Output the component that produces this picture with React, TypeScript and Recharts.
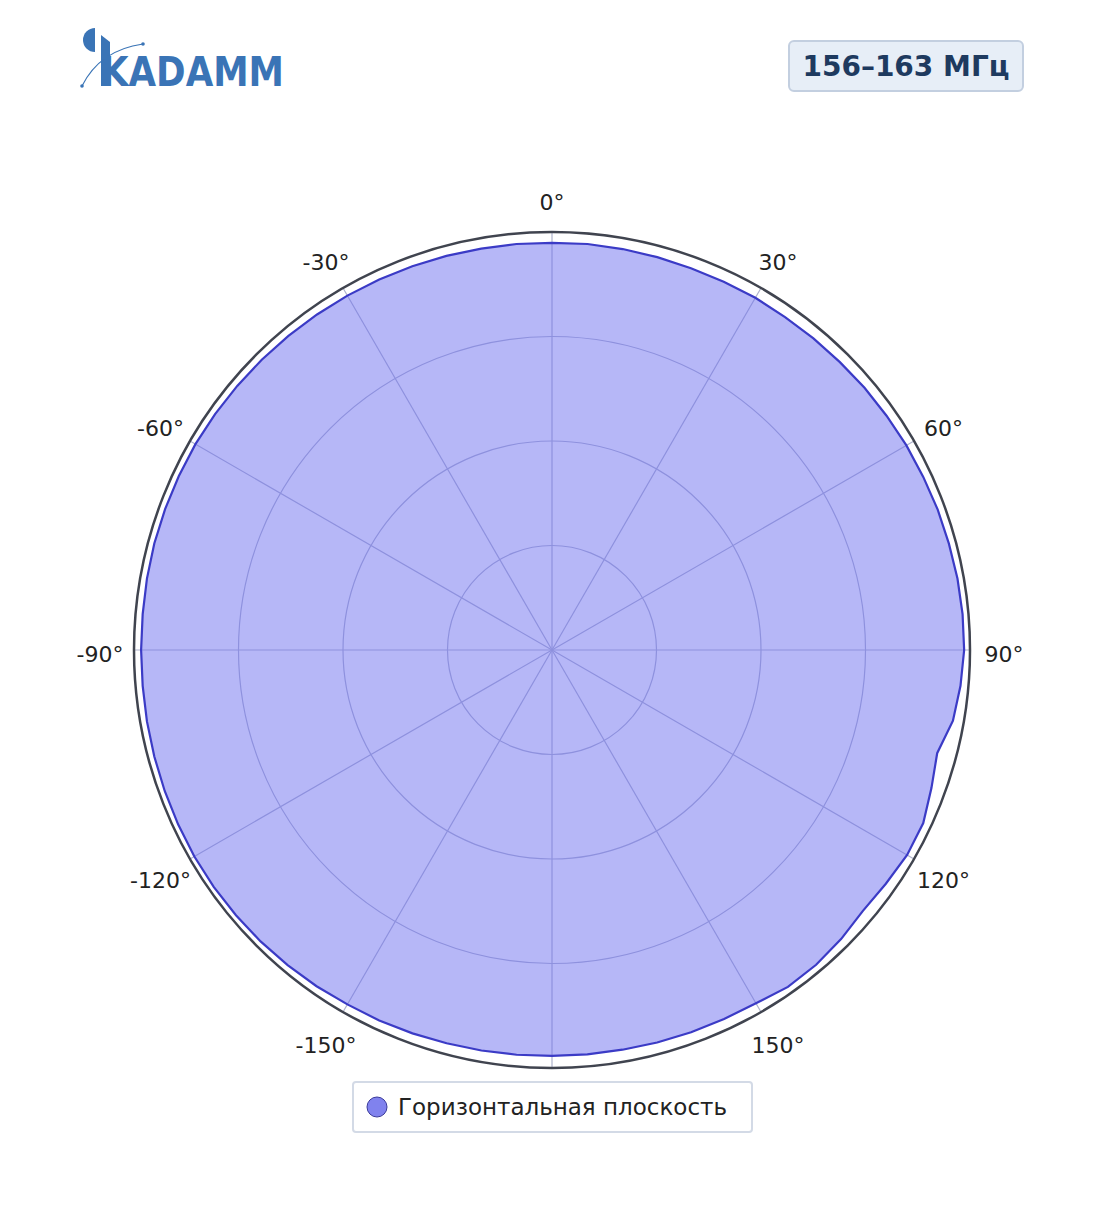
import React from "react"
import {
  RadarChart,
  Radar,
  PolarGrid,
  PolarAngleAxis,
  PolarRadiusAxis,
  Legend,
} from "recharts"

// диаграмма направленности, горизонтальная плоскость (нормированная)
const angles = [
  0, 5, 10, 15, 20, 25, 30, 35, 40, 45, 50, 55,
  60, 65, 70, 75, 80, 85, 90, 95, 100, 105, 110, 115,
  120, 125, 130, 135, 140, 145, 150, 155, 160, 165, 170, 175,
  180, -175, -170, -165, -160, -155, -150, -145, -140, -135, -130, -125,
  -120, -115, -110, -105, -100, -95, -90, -85, -80, -75, -70, -65,
  -60, -55, -50, -45, -40, -35, -30, -25, -20, -15, -10, -5,
]

const gain = [
  0.974, 0.975, 0.974, 0.973, 0.972, 0.972, 0.973, 0.972, 0.973, 0.974, 0.976, 0.977,
  0.979, 0.98, 0.982, 0.983, 0.985, 0.986, 0.986, 0.981, 0.974, 0.954, 0.966, 0.98,
  0.981, 0.975, 0.971, 0.978, 0.983, 0.984, 0.976, 0.974, 0.973, 0.972, 0.971, 0.971,
  0.971, 0.972, 0.973, 0.974, 0.976, 0.978, 0.979, 0.982, 0.984, 0.986, 0.987, 0.988,
  0.988, 0.987, 0.986, 0.985, 0.984, 0.983, 0.983, 0.983, 0.984, 0.985, 0.985, 0.985,
  0.985, 0.984, 0.983, 0.982, 0.981, 0.98, 0.979, 0.978, 0.977, 0.976, 0.975, 0.975,
]

const spokeAngles = [90, 60, 30, 0, -30, -60, -90, -120, -150, -180, -210, -240]
const ringRadii = [104.5, 209, 313.5]

const seriesName = "Горизонтальная плоскость"
const bandLabel = "156–163 МГц"

const data = angles.map((a, i) => ({ angle: a, r: gain[i] }))

const CX = 552
const CY = 650
const R = 418
const LABEL_R = 452
const FONT = "'DejaVu Sans', Verdana, sans-serif"

function AngleTick(props: any) {
  const { x, y, payload } = props
  const a = payload.value as number
  if (a % 30 !== 0 || a === 180) return null
  const dx = x - CX
  const dy = y - CY
  const len = Math.hypot(dx, dy) || 1
  return (
    <text
      x={CX + (dx / len) * LABEL_R}
      y={CY + (dy / len) * LABEL_R + 4}
      textAnchor="middle"
      dominantBaseline="central"
      fontSize={22}
      fontFamily={FONT}
      fill="#222"
    >
      {`${a}°`}
    </text>
  )
}

function LegendBox() {
  return (
    <div
      style={{
        boxSizing: "border-box",
        width: 401,
        height: 52,
        border: "2px solid #d3dae6",
        borderRadius: 4,
        background: "#fff",
        display: "flex",
        alignItems: "center",
        paddingLeft: 12,
        fontFamily: FONT,
        fontSize: 23,
        color: "#222",
      }}
    >
      <svg width={22} height={22} style={{ marginRight: 10 }}>
        <circle cx={11} cy={11} r={10} fill="#8082ee" stroke="#3a3a9a" strokeWidth={1} />
      </svg>
      {seriesName}
    </div>
  )
}

function Logo() {
  return (
    <svg width={240} height={80} style={{ position: "absolute", left: 70, top: 20 }}>
      <path d="M25,8 A12,12 0 0,0 25,32 Z" fill="#3a74b6" />
      <path d="M31,15 L40,22 L40,66 L31,66 Z" fill="#3a74b6" />
      <path d="M12,66 Q30,30 73,24" stroke="#3a74b6" strokeWidth={1.2} fill="none" />
      <circle cx={12} cy={66} r={1.8} fill="#3a74b6" />
      <circle cx={73} cy={24} r={1.8} fill="#3a74b6" />
      <text
        x={31}
        y={66}
        fontFamily={FONT}
        fontWeight="bold"
        fontSize={40}
        fill="#3a74b6"
        textLength={183}
        lengthAdjust="spacingAndGlyphs"
      >
        KADAMM
      </text>
    </svg>
  )
}

export default function App() {
  return (
    <div style={{ position: "absolute", left: 0, top: 0, width: 1104, height: 1211, background: "#fff" }}>
      <Logo />
      <div
        style={{
          position: "absolute",
          left: 788,
          top: 40,
          width: 236,
          height: 52,
          boxSizing: "border-box",
          background: "#e7eef7",
          border: "2px solid #c3cfe0",
          borderRadius: 6,
          display: "flex",
          alignItems: "center",
          justifyContent: "center",
          fontFamily: FONT,
          fontWeight: "bold",
          fontSize: 28,
          color: "#1e3a5f",
        }}
      >
        {bandLabel}
      </div>
      <RadarChart
        width={1104}
        height={1211}
        data={data}
        cx={CX}
        cy={CY}
        outerRadius={R}
        startAngle={90}
        endAngle={-270}
        margin={{ top: 0, right: 0, bottom: 0, left: 0 }}
      >
        <PolarGrid
          gridType="circle"
          polarAngles={spokeAngles}
          polarRadius={ringRadii}
          stroke="#aeb2cc"
          strokeWidth={1.2}
        />
        <PolarAngleAxis dataKey="angle" tick={<AngleTick />} tickLine={false} axisLine={false} />
        <PolarRadiusAxis domain={[0, 1]} tick={false} axisLine={false} />
        <circle cx={CX} cy={CY} r={R} fill="none" stroke="#40444f" strokeWidth={2.5} />
        <Radar
          name={seriesName}
          dataKey="r"
          stroke="#3b3bc6"
          strokeWidth={2.2}
          fill="#6e70f0"
          fillOpacity={0.5}
          isAnimationActive={false}
        />
        <Legend
          content={<LegendBox />}
          wrapperStyle={{ left: 352, top: 1081, width: 401, height: 52, bottom: "auto" }}
        />
      </RadarChart>
    </div>
  )
}
